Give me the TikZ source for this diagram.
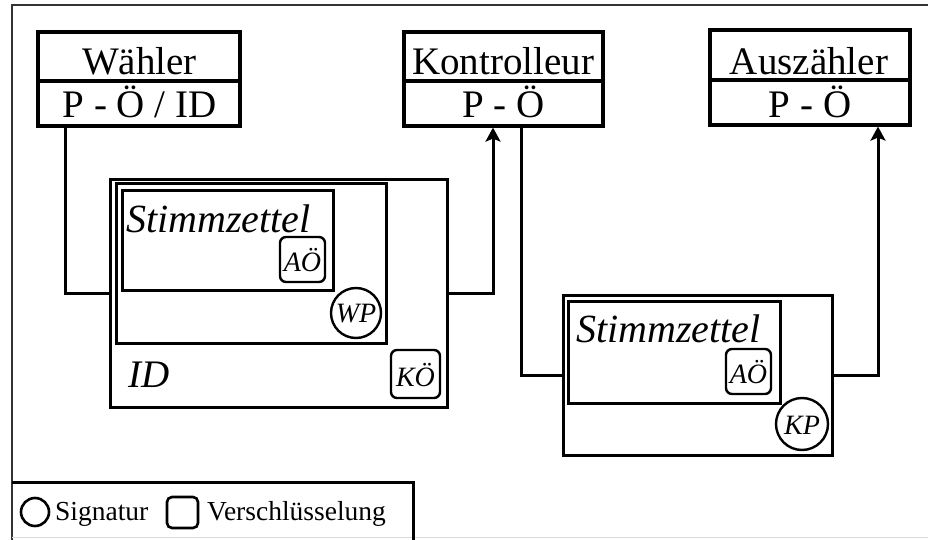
\documentclass[tikz,border=0pt]{standalone}
\usepackage{fontspec}
\setmainfont{Liberation Serif}
\usetikzlibrary{arrows.meta}
\tikzset{
  box/.style={draw, line width=3.2pt, inner sep=0pt, rectangle},
  env/.style={draw, line width=3pt, inner sep=0pt, rectangle},
  key/.style={draw, line width=2.4pt, inner sep=0pt, rectangle, rounded corners=6pt},
  seal/.style={draw, line width=2.4pt, inner sep=0pt, circle},
  big/.style={font=\fontsize{39}{42}\selectfont, inner sep=0pt},
  title/.style={font=\itshape\fontsize{40}{42}\selectfont, inner sep=0pt},
  small/.style={font=\itshape\fontsize{28}{30}\selectfont, inner sep=0pt},
  legendtext/.style={font=\fontsize{27.5}{30}\selectfont, inner sep=0pt},
  wire/.style={line width=3pt},
  arrowwire/.style={line width=3pt, -{Stealth[length=14pt,width=15pt,inset=3pt]}}
}
\begin{document}
\begin{tikzpicture}[x=1pt,y=-1pt]
\clip (0,0) rectangle (928,540);
\fill[white] (0,0) rectangle (928,540);

% outer frame
\draw[line width=2.4pt, black!80] (12,545) -- (12,5) -- (935,5);
\draw[line width=1pt, black!15] (12,537) -- (935,537);

% parties
\node[box, minimum width=202pt, minimum height=49pt] (wahT) at (139,56.5) {};
\node[box, minimum width=202pt, minimum height=45pt] (wahB) at (139,103.5) {};
\node[big, anchor=base] (wahName) at (139.5,75) {Wähler};
\node[big, anchor=base] (wahKey) at (139.5,118) {P - Ö / ID};

\node[box, minimum width=199pt, minimum height=49pt] (konT) at (503.5,56.5) {};
\node[box, minimum width=199pt, minimum height=45pt] (konB) at (503.5,103.5) {};
\node[big, anchor=base] (konName) at (503,75) {Kontrolleur};
\node[big, anchor=base] (konKey) at (503.5,118) {P - Ö};

\node[box, minimum width=200pt, minimum height=50pt] (ausT) at (810,55) {};
\node[box, minimum width=200pt, minimum height=45pt] (ausB) at (810,102.5) {};
\node[big, anchor=base] (ausName) at (809,75) {Auszähler};
\node[big, anchor=base] (ausKey) at (810,118) {P - Ö};

% first envelope: ballot, voter signature, ID
\node[env, minimum width=337pt, minimum height=227pt] (idenv) at (278.5,293.5) {};
\node[env, minimum width=270pt, minimum height=159pt] (wpenv) at (251,263.5) {};
\node[env, minimum width=211pt, minimum height=100pt] (ballotA) at (227.5,240) {};
\node[title, anchor=base west] (ballotAName) at (126,232) {Stimmzettel};
\node[key, minimum width=45pt, minimum height=45pt] (aoA) at (302.5,259.5) {};
\node[small] (aoAText) at (302.5,260) {AÖ};
\node[seal, minimum size=50pt, fill=white] (wp) at (356,313) {};
\node[small] (wpText) at (356,314) {WP};
\node[key, minimum width=49pt, minimum height=48pt] (ko) at (415.5,374) {};
\node[small] (koText) at (415.5,375) {KÖ};
\node[title, font=\itshape\fontsize{39}{42}\selectfont, anchor=base west] (idText) at (128,387) {ID};

% second envelope: ballot with controller signature
\node[env, minimum width=269pt, minimum height=160pt] (env2) at (697.5,375) {};
\node[env, minimum width=212pt, minimum height=102pt] (ballotB) at (674,352) {};
\node[title, anchor=base west] (ballotBName) at (576,342) {Stimmzettel};
\node[key, minimum width=45pt, minimum height=45pt] (aoB) at (748.5,371.5) {};
\node[small] (aoBText) at (748.5,372) {AÖ};
\node[seal, minimum size=52pt, fill=white] (kp) at (802,424) {};
\node[small] (kpText) at (802,425) {KP};

% connectors
\draw[wire] ([xshift=-74pt]wahB.south) |- (idenv.west);
\draw[arrowwire] (idenv.east) -| ([xshift=-10.5pt]konB.south);
\draw[wire] ([xshift=17.5pt]konB.south) |- (env2.west);
\draw[arrowwire] (env2.east) -| ([xshift=68pt]ausB.south);

% legend
\draw[line width=3pt] (12,482) -- (413,482) -- (413,545);
\node[seal, line width=2.6pt, minimum size=28pt] (legSig) at (35,512) {};
\node[legendtext, anchor=base west] (legSigText) at (55,520) {Signatur};
\node[key, line width=2.6pt, minimum width=31pt, minimum height=31pt, rounded corners=5pt] (legEnc) at (182.5,512.5) {};
\node[legendtext, anchor=base west] (legEncText) at (207,520) {Verschlüsselung};
\end{tikzpicture}
\end{document}
